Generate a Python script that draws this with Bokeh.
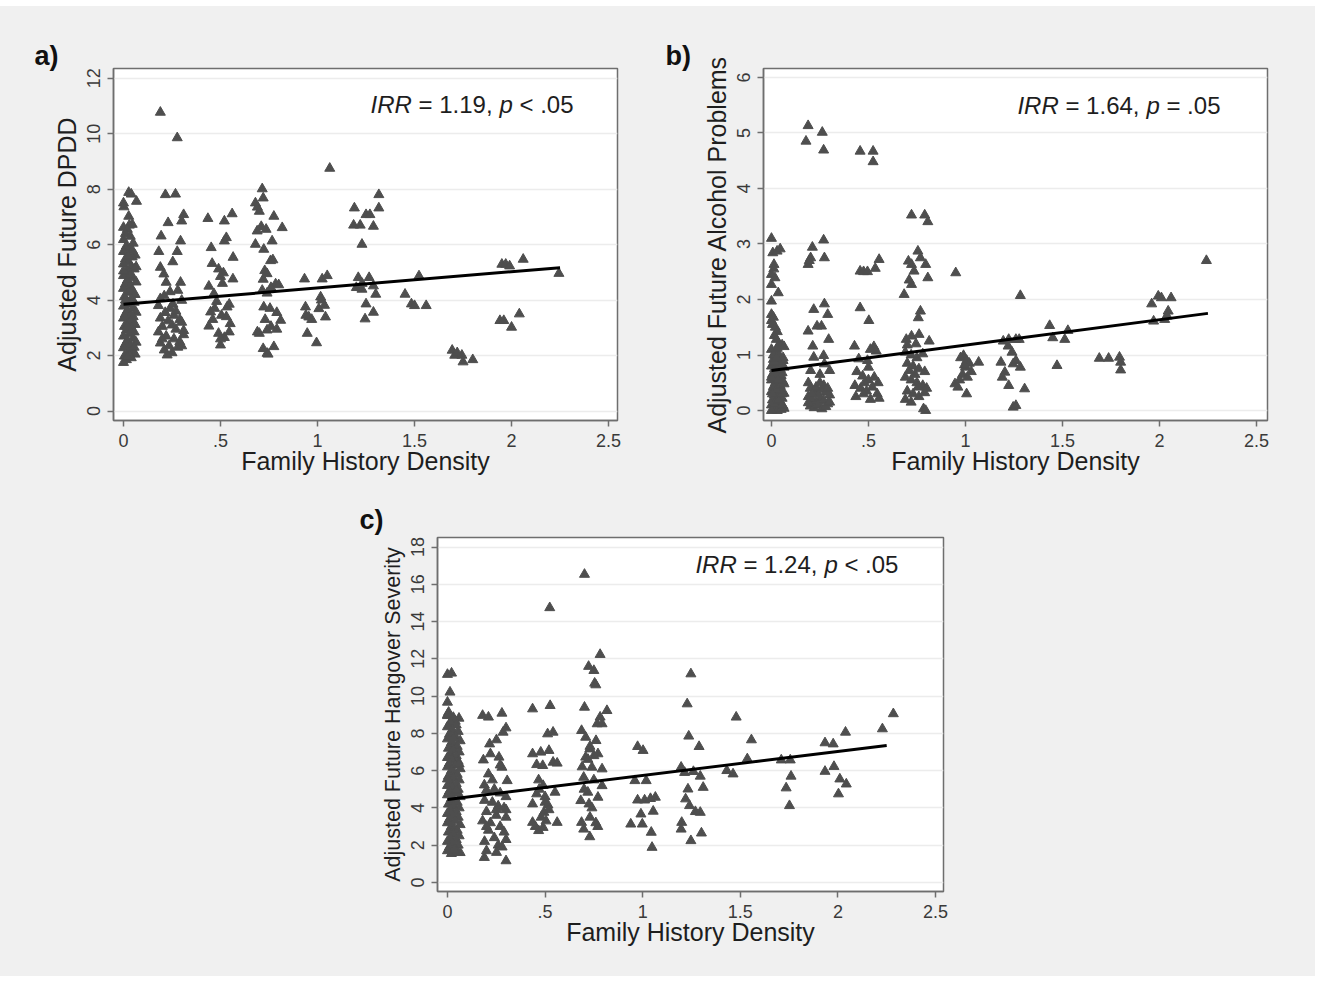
from bokeh.plotting import figure
from bokeh.layouts import column, row
from bokeh.models import Label, FixedTicker, Spacer
from bokeh.embed import file_html
from bokeh.resources import INLINE

FONT = "Liberation Sans"
BG = "#f0f0f0"
MARK = "#4e4e4e"
AXC = "#6e6e6e"

x_ticks = [0, 0.5, 1, 1.5, 2, 2.5]
x_tick_labels = ["0", ".5", "1", "1.5", "2", "2.5"]
x_title = "Family History Density"

# ---------------- panel a: Adjusted Future DPDD ----------------
dpdd_ticks = [0, 2, 4, 6, 8, 10, 12]
dpdd_title = "Adjusted Future DPDD"
dpdd_points = [
    # FH density ~0
    (0.027, 7.88), (0.040, 7.82), (0.067, 7.56), (0.0, 7.50), (0.002, 7.36), (0.027, 7.02),
    (0.045, 6.73), (0.03, 6.70), (0.00, 6.62), (0.02, 6.55), (0.01, 6.40), (0.035, 6.30),
    (0.00, 6.18), (0.05, 6.05), (0.015, 5.95), (0.03, 5.85), (0.00, 5.75), (0.06, 5.62),
    (0.045, 5.55), (0.01, 5.48), (0.025, 5.38), (0.00, 5.30), (0.04, 5.22), (0.055, 5.12),
    (0.015, 5.05), (0.03, 4.97), (0.00, 4.88), (0.05, 4.80), (0.02, 4.72), (0.065, 4.65),
    (0.01, 4.58), (0.035, 4.50), (0.00, 4.42), (0.045, 4.35), (0.025, 4.28), (0.06, 4.20),
    (0.005, 4.12), (0.04, 4.05), (0.015, 3.98), (0.055, 3.92), (0.03, 3.85), (0.00, 3.78),
    (0.05, 3.70), (0.02, 3.63), (0.065, 3.56), (0.01, 3.50), (0.035, 3.42), (0.00, 3.35),
    (0.045, 3.28), (0.025, 3.20), (0.06, 3.12), (0.005, 3.05), (0.04, 2.98), (0.015, 2.92),
    (0.055, 2.85), (0.03, 2.78), (0.00, 2.70), (0.05, 2.62), (0.02, 2.55), (0.065, 2.48),
    (0.01, 2.42), (0.035, 2.35), (0.00, 2.28), (0.045, 2.20), (0.025, 2.12), (0.06, 2.05),
    (0.005, 1.98), (0.04, 1.92), (0.015, 1.85), (0.00, 1.75), (0.03, 2.02), (0.02, 3.05),
    (0.05, 3.40), (0.01, 4.00), (0.035, 4.90), (0.045, 5.80), (0.00, 5.05), (0.025, 5.60),
    (0.065, 5.20), (0.055, 2.30), (0.02, 1.95),
    # ~0.25
    (0.19, 10.77), (0.277, 9.85), (0.216, 7.80), (0.268, 7.82), (0.31, 7.08), (0.30, 6.85),
    (0.23, 6.79), (0.194, 6.31), (0.294, 6.13), (0.182, 5.75), (0.277, 5.75), (0.254, 5.38),
    (0.19, 5.18), (0.208, 4.94), (0.22, 4.64), (0.294, 4.64), (0.28, 4.35), (0.30, 3.99),
    (0.19, 4.05), (0.21, 4.15), (0.18, 3.80), (0.24, 3.70), (0.215, 3.55), (0.26, 3.45),
    (0.19, 3.35), (0.23, 3.25), (0.29, 3.30), (0.25, 3.10), (0.20, 3.05), (0.27, 2.95),
    (0.18, 2.85), (0.31, 2.75), (0.22, 2.70), (0.26, 2.60), (0.29, 2.50), (0.19, 2.45),
    (0.235, 2.35), (0.28, 2.30), (0.21, 2.20), (0.25, 2.10), (0.225, 2.02), (0.30, 2.35),
    (0.27, 3.60), (0.31, 2.90), (0.20, 2.60), (0.24, 4.30), (0.255, 3.85), (0.30, 3.20),
    # ~0.5
    (0.435, 6.94), (0.52, 6.85), (0.56, 7.11), (0.452, 5.89), (0.52, 6.13), (0.53, 6.25),
    (0.565, 5.54), (0.457, 5.32), (0.49, 5.12), (0.515, 4.98), (0.564, 4.76), (0.50, 4.85),
    (0.466, 4.23), (0.44, 4.50), (0.51, 4.60), (0.534, 3.75), (0.545, 3.85), (0.449, 3.57),
    (0.47, 3.70), (0.44, 3.06), (0.49, 2.80), (0.55, 3.15), (0.50, 2.38), (0.52, 2.65),
    (0.545, 2.85), (0.46, 3.30), (0.505, 3.45), (0.48, 3.95), (0.53, 3.40), (0.50, 2.60),
    # ~0.75
    (0.715, 8.01), (0.72, 7.68), (0.68, 7.50), (0.69, 7.35), (0.70, 7.20), (0.775, 7.02),
    (0.818, 6.61), (0.689, 6.49), (0.71, 6.65), (0.735, 6.55), (0.766, 6.13), (0.68, 6.01),
    (0.723, 5.83), (0.758, 5.42), (0.77, 5.45), (0.728, 5.06), (0.74, 4.95), (0.72, 4.75),
    (0.784, 4.58), (0.80, 4.55), (0.76, 4.45), (0.715, 4.35), (0.74, 4.25), (0.723, 3.75),
    (0.755, 3.70), (0.81, 3.27), (0.79, 3.55), (0.70, 2.80), (0.74, 2.92), (0.775, 2.32),
    (0.74, 2.08), (0.72, 2.25), (0.745, 2.05), (0.69, 2.85), (0.76, 3.05), (0.79, 2.95),
    (0.73, 3.30),
    # ~1
    (0.933, 4.76), (1.024, 4.76), (1.05, 4.88), (0.938, 3.75), (1.016, 4.11), (1.036, 3.81),
    (1.007, 3.69), (0.955, 3.39), (0.97, 3.30), (1.041, 3.39), (0.947, 2.80), (0.995, 2.46),
    (1.063, 8.75), (1.02, 4.00), (0.94, 3.45),
    # ~1.25
    (1.19, 7.32), (1.22, 6.70), (1.186, 6.70), (1.25, 7.08), (1.27, 7.08), (1.288, 6.66),
    (1.316, 7.80), (1.316, 7.32), (1.229, 6.01), (1.21, 4.81), (1.266, 4.81), (1.229, 4.39),
    (1.288, 4.51), (1.30, 4.21), (1.25, 3.86), (1.288, 3.56), (1.245, 3.32), (1.23, 4.60),
    (1.20, 4.45),
    # ~1.5
    (1.451, 4.21), (1.484, 3.86), (1.50, 3.80), (1.56, 3.80), (1.523, 4.87),
    # ~1.75
    (1.694, 2.19), (1.707, 2.01), (1.744, 2.01), (1.75, 1.77), (1.80, 1.85), (1.72, 2.10),
    # ~2
    (1.95, 5.29), (1.97, 5.29), (1.99, 5.23), (2.06, 5.47), (1.94, 3.26), (1.96, 3.26),
    (2.00, 3.02), (2.04, 3.50),
    # 2.25
    (2.244, 4.96),
]
dpdd_fit_x = [0.0, 2.25]
dpdd_fit_y = [3.85, 5.17]
dpdd_irr = "= 1.19,"
dpdd_p = "< .05"

# ---------------- panel b: Adjusted Future Alcohol Problems ----------------
alc_ticks = [0, 1, 2, 3, 4, 5, 6]
alc_title = "Adjusted Future Alcohol Problems"
alc_points = [
    # ~0
    (0.0, 3.10), (0.007, 2.84), (0.029, 2.87), (0.045, 2.91), (0.013, 2.63), (0.012, 2.55),
    (0.0, 2.45), (0.018, 2.39), (0.035, 2.12), (0.0, 1.97), (0.0, 2.27), (0.0, 1.73),
    (0.01, 1.68), (0.005, 1.55), (0.02, 1.50), (0.0, 1.62), (0.03, 1.42), (0.04, 1.20),
    (0.055, 1.18), (0.065, 1.15), (0.015, 1.35), (0.025, 1.28),
    (0.00, 1.10), (0.02, 1.05), (0.04, 1.00), (0.06, 0.95), (0.01, 0.92), (0.03, 0.88),
    (0.05, 0.85), (0.00, 0.80), (0.065, 0.78), (0.015, 0.75), (0.035, 0.72), (0.055, 0.68),
    (0.005, 0.65), (0.025, 0.62), (0.045, 0.58), (0.00, 0.55), (0.06, 0.52), (0.02, 0.50),
    (0.04, 0.46), (0.01, 0.43), (0.03, 0.40), (0.05, 0.37), (0.00, 0.34), (0.065, 0.31),
    (0.015, 0.28), (0.035, 0.25), (0.055, 0.22), (0.005, 0.19), (0.025, 0.16), (0.045, 0.13),
    (0.00, 0.10), (0.06, 0.08), (0.02, 0.05), (0.04, 0.03), (0.01, 0.01), (0.03, 0.00),
    (0.05, 0.02), (0.00, 0.00), (0.065, 0.04), (0.015, 0.12), (0.035, 0.18), (0.055, 0.30),
    (0.025, 0.36), (0.045, 0.45), (0.00, 0.60), (0.02, 0.70), (0.04, 0.82), (0.06, 0.90),
    (0.01, 1.00), (0.03, 1.12), (0.05, 0.63), (0.065, 0.48), (0.015, 0.88), (0.035, 0.55),
    (0.005, 0.30), (0.055, 0.10), (0.025, 0.95), (0.045, 0.75),
    # ~0.25
    (0.189, 5.13), (0.178, 4.85), (0.262, 5.01), (0.269, 4.69), (0.211, 2.94), (0.202, 2.75),
    (0.189, 2.63), (0.195, 2.70), (0.269, 3.07), (0.273, 2.75), (0.218, 1.82), (0.273, 1.92),
    (0.29, 1.73), (0.189, 1.43), (0.235, 1.52), (0.258, 1.52), (0.213, 1.16), (0.295, 1.28),
    (0.269, 0.99), (0.218, 0.96), (0.202, 0.72), (0.273, 0.84), (0.25, 0.65), (0.30, 0.72),
    (0.19, 0.50), (0.20, 0.40), (0.22, 0.35), (0.24, 0.30), (0.26, 0.38), (0.28, 0.33),
    (0.30, 0.28), (0.19, 0.25), (0.21, 0.20), (0.23, 0.15), (0.25, 0.22), (0.27, 0.18),
    (0.29, 0.12), (0.20, 0.08), (0.22, 0.05), (0.24, 0.10), (0.26, 0.03), (0.28, 0.07),
    (0.30, 0.15), (0.19, 0.14), (0.23, 0.42), (0.27, 0.45), (0.25, 0.50), (0.21, 0.30),
    (0.29, 0.40),
    # ~0.5
    (0.457, 4.67), (0.524, 4.67), (0.524, 4.48), (0.457, 2.51), (0.475, 2.50), (0.495, 2.50),
    (0.535, 2.56), (0.555, 2.72), (0.457, 1.85), (0.502, 1.62), (0.428, 1.16), (0.528, 1.15),
    (0.54, 1.07), (0.45, 0.93), (0.495, 0.90), (0.51, 1.10), (0.44, 0.70), (0.47, 0.62),
    (0.50, 0.55), (0.53, 0.60), (0.55, 0.50), (0.43, 0.45), (0.46, 0.40), (0.49, 0.35),
    (0.52, 0.42), (0.545, 0.30), (0.435, 0.25), (0.475, 0.30), (0.51, 0.20), (0.555, 0.22),
    (0.48, 0.50), (0.50, 0.78),
    # ~0.75
    (0.722, 3.52), (0.79, 3.52), (0.806, 3.40), (0.684, 2.09), (0.706, 2.69), (0.722, 2.63),
    (0.755, 2.87), (0.768, 2.75), (0.735, 2.51), (0.795, 2.63), (0.806, 2.39), (0.722, 2.27),
    (0.71, 2.35), (0.768, 1.79), (0.757, 1.67), (0.695, 1.28), (0.722, 1.34), (0.761, 1.37),
    (0.813, 1.25), (0.70, 1.18), (0.745, 1.20), (0.784, 0.03), (0.795, 0.00), (0.69, 1.05),
    (0.72, 1.00), (0.75, 0.95), (0.78, 1.02), (0.70, 0.85), (0.73, 0.80), (0.76, 0.75),
    (0.79, 0.70), (0.69, 0.60), (0.72, 0.55), (0.75, 0.50), (0.78, 0.45), (0.80, 0.40),
    (0.70, 0.35), (0.73, 0.30), (0.76, 0.25), (0.69, 0.20), (0.72, 0.15), (0.755, 0.42),
    (0.79, 0.32), (0.74, 0.65), (0.71, 0.72),
    # ~1
    (0.95, 2.48), (0.99, 0.99), (0.975, 0.95), (1.006, 0.90), (1.068, 0.87), (0.946, 0.48),
    (0.961, 0.42), (1.006, 0.30), (0.985, 0.65), (1.00, 0.78), (1.02, 0.85), (0.97, 0.55),
    (1.01, 0.60), (0.995, 0.82), (1.03, 0.70),
    # ~1.25
    (1.283, 2.07), (1.195, 1.25), (1.223, 1.28), (1.26, 1.28), (1.277, 1.28), (1.22, 1.16),
    (1.183, 0.87), (1.246, 0.84), (1.26, 0.90), (1.283, 0.78), (1.203, 0.69), (1.19, 0.60),
    (1.223, 0.45), (1.305, 0.39), (1.246, 0.06), (1.26, 0.09), (1.24, 1.05),
    # ~1.5
    (1.434, 1.53), (1.45, 1.31), (1.512, 1.28), (1.528, 1.44), (1.472, 0.81),
    # ~1.75
    (1.69, 0.94), (1.738, 0.94), (1.794, 0.96), (1.80, 0.87), (1.80, 0.73),
    # ~2
    (1.96, 1.92), (1.994, 2.06), (2.01, 2.03), (2.06, 2.03), (2.045, 1.79), (1.97, 1.61),
    (2.027, 1.64), (2.04, 1.70),
    # 2.25
    (2.242, 2.70),
]
alc_fit_x = [0.0, 2.25]
alc_fit_y = [0.72, 1.75]
alc_irr = "= 1.64,"
alc_p = "= .05"

# ---------------- panel c: Adjusted Future Hangover Severity ----------------
hang_ticks = [0, 2, 4, 6, 8, 10, 12, 14, 16, 18]
hang_title = "Adjusted Future Hangover Severity"
hang_points = [
    # ~0
    (0.0, 11.16), (0.021, 11.23), (0.013, 10.21), (0.0, 9.67), (0.006, 9.13), (0.059, 8.81),
    (0.017, 8.51), (0.0, 8.95), (0.04, 8.65),
    (0.00, 9.00), (0.03, 8.85), (0.015, 8.60), (0.045, 8.45), (0.00, 8.35), (0.025, 8.20),
    (0.055, 8.10), (0.01, 7.95), (0.04, 7.85), (0.00, 7.70), (0.065, 7.60), (0.02, 7.50),
    (0.035, 7.40), (0.05, 7.30), (0.005, 7.20), (0.03, 7.10), (0.06, 7.00), (0.015, 6.90),
    (0.045, 6.80), (0.00, 6.70), (0.025, 6.60), (0.055, 6.50), (0.01, 6.40), (0.04, 6.30),
    (0.00, 6.20), (0.065, 6.10), (0.02, 6.00), (0.035, 5.90), (0.05, 5.80), (0.005, 5.70),
    (0.03, 5.60), (0.06, 5.50), (0.015, 5.40), (0.045, 5.30), (0.00, 5.20), (0.025, 5.10),
    (0.055, 5.00), (0.01, 4.90), (0.04, 4.80), (0.00, 4.70), (0.065, 4.60), (0.02, 4.50),
    (0.035, 4.40), (0.05, 4.30), (0.005, 4.20), (0.03, 4.10), (0.06, 4.00), (0.015, 3.90),
    (0.045, 3.80), (0.00, 3.70), (0.025, 3.60), (0.055, 3.50), (0.01, 3.40), (0.04, 3.30),
    (0.00, 3.20), (0.065, 3.10), (0.02, 3.00), (0.035, 2.90), (0.05, 2.80), (0.005, 2.70),
    (0.03, 2.60), (0.06, 2.50), (0.015, 2.40), (0.045, 2.30), (0.00, 2.20), (0.025, 2.10),
    (0.055, 2.00), (0.01, 1.90), (0.04, 1.80), (0.00, 1.70), (0.065, 1.60), (0.02, 1.55),
    (0.05, 1.65), (0.035, 1.75), (0.03, 7.75), (0.06, 6.35), (0.00, 5.55), (0.045, 4.95),
    # ~0.25
    (0.18, 8.96), (0.21, 8.87), (0.279, 9.08), (0.30, 8.29), (0.285, 8.06), (0.216, 7.43),
    (0.251, 7.65), (0.184, 6.57), (0.264, 6.72), (0.279, 6.18), (0.21, 5.82), (0.306, 5.46),
    (0.189, 5.23), (0.20, 4.95), (0.24, 5.00), (0.27, 4.80), (0.30, 4.60), (0.19, 4.40),
    (0.23, 4.30), (0.26, 4.10), (0.29, 4.00), (0.20, 3.80), (0.25, 3.60), (0.30, 3.50),
    (0.18, 3.30), (0.22, 3.20), (0.27, 3.00), (0.21, 2.80), (0.29, 2.70), (0.24, 2.40),
    (0.19, 2.20), (0.30, 2.30), (0.26, 2.00), (0.189, 1.34), (0.30, 1.16), (0.251, 1.61),
    (0.20, 1.70), (0.28, 1.90), (0.23, 5.50), (0.27, 6.30), (0.22, 6.90), (0.25, 3.90),
    (0.20, 3.00), (0.30, 3.90),
    # ~0.5
    (0.524, 14.74), (0.436, 9.31), (0.526, 9.49), (0.513, 7.97), (0.541, 8.06), (0.436, 6.90),
    (0.478, 6.99), (0.52, 7.08), (0.457, 6.32), (0.488, 6.27), (0.541, 6.45), (0.562, 6.40),
    (0.467, 5.50), (0.49, 5.20), (0.457, 4.75), (0.551, 4.84), (0.436, 4.21), (0.50, 4.30),
    (0.515, 4.15), (0.494, 3.76), (0.436, 3.22), (0.505, 3.30), (0.562, 3.22), (0.467, 2.78),
    (0.47, 5.00), (0.50, 4.60), (0.48, 3.50), (0.52, 3.90), (0.45, 3.00), (0.49, 2.95),
    # ~0.75
    (0.702, 16.53), (0.782, 12.23), (0.723, 11.59), (0.75, 11.37), (0.754, 10.69), (0.76, 10.60),
    (0.702, 9.40), (0.817, 9.22), (0.782, 8.87), (0.767, 8.51), (0.792, 8.51), (0.687, 8.15),
    (0.708, 7.79), (0.761, 7.61), (0.729, 7.16), (0.771, 6.90), (0.708, 6.72), (0.72, 6.60),
    (0.74, 6.18), (0.792, 6.09), (0.698, 5.64), (0.75, 5.50), (0.792, 5.19), (0.719, 4.84),
    (0.771, 4.57), (0.683, 4.39), (0.725, 4.21), (0.74, 4.00), (0.687, 3.22), (0.76, 3.20),
    (0.698, 2.86), (0.729, 2.45), (0.77, 3.00), (0.73, 3.50), (0.70, 5.00), (0.75, 6.80),
    (0.73, 7.30), (0.69, 6.20),
    # ~1
    (0.974, 7.29), (1.002, 7.08), (0.96, 5.46), (1.018, 5.46), (0.974, 4.42), (1.01, 4.42),
    (1.065, 4.57), (1.054, 3.82), (0.991, 3.67), (0.939, 3.13), (0.998, 3.13), (1.044, 2.69),
    (1.048, 1.88), (1.04, 4.50),
    # ~1.25
    (1.247, 11.19), (1.228, 9.58), (1.236, 7.85), (1.289, 7.29), (1.197, 6.18), (1.215, 5.90),
    (1.295, 5.70), (1.31, 5.10), (1.232, 5.01), (1.22, 4.48), (1.24, 4.12), (1.295, 3.76),
    (1.27, 3.80), (1.20, 3.22), (1.197, 2.86), (1.301, 2.65), (1.247, 2.24), (1.26, 5.95),
    # ~1.5
    (1.479, 8.87), (1.557, 7.65), (1.536, 6.63), (1.431, 6.00), (1.463, 5.82),
    # ~1.75
    (1.71, 6.57), (1.756, 6.57), (1.76, 5.70), (1.735, 5.07), (1.752, 4.12),
    # ~2
    (1.934, 7.49), (1.976, 7.43), (1.934, 5.96), (1.98, 6.22), (2.039, 8.06), (2.01, 5.55),
    (2.043, 5.28), (2.003, 4.75),
    # >2.2
    (2.228, 8.24), (2.284, 9.05),
]
hang_fit_x = [0.0, 2.25]
hang_fit_y = [4.45, 7.35]
hang_irr = "= 1.24,"
hang_p = "< .05"


def make_panel(w, h, left, right, top, bottom, xr, yr, yticks, ytitle, ytitle_size,
               pts, fit_x, fit_y, irr_txt, p_txt, irr_xy, tag, tag_offset, tag_standoff):
    p = figure(width=w, height=h, x_range=xr, y_range=yr,
               output_backend="svg", toolbar_location=None,
               min_border_left=left, min_border_right=right,
               min_border_top=top, min_border_bottom=bottom,
               background_fill_color="white", border_fill_color=BG,
               outline_line_color=AXC, outline_line_width=1.5)
    xs = [q[0] for q in pts]
    ys = [q[1] for q in pts]
    p.scatter(xs, ys, marker="triangle", size=10, fill_color=MARK, line_color=MARK)
    p.line(fit_x, fit_y, line_color="black", line_width=3)

    xa = p.xaxis[0]
    xa.ticker = FixedTicker(ticks=x_ticks)
    xa.major_label_overrides = dict(zip(x_ticks, x_tick_labels))
    ya = p.yaxis[0]
    ya.ticker = FixedTicker(ticks=yticks)
    ya.major_label_orientation = "vertical"
    for ax in (xa, ya):
        ax.minor_tick_line_color = None
        ax.major_tick_in = 0
        ax.major_tick_out = 6
        ax.major_tick_line_color = AXC
        ax.major_tick_line_width = 1.5
        ax.axis_line_color = AXC
        ax.axis_line_width = 1.5
        ax.major_label_text_font = FONT
        ax.major_label_text_font_size = "18px"
        ax.major_label_text_color = "#3a3a3a"
        ax.axis_label_text_font = FONT
        ax.axis_label_text_font_size = "25px"
        ax.axis_label_text_font_style = "normal"
        ax.axis_label_text_color = "#1e1e1e"
    ya.axis_label_text_font_size = ytitle_size
    xa.major_label_standoff = 7
    xa.axis_label_standoff = -3
    ya.major_label_standoff = 7
    ya.axis_label_standoff = 4
    xa.axis_label = x_title
    ya.axis_label = ytitle

    p.xgrid.grid_line_color = None
    p.ygrid.ticker = FixedTicker(ticks=yticks)
    p.ygrid.grid_line_color = "#ececec"
    p.ygrid.grid_line_width = 1.5

    ix, iy = irr_xy
    pieces = [("IRR", "italic", 0), (irr_txt, "normal", 48),
              ("p", "italic", 129), (p_txt, "normal", 149)]
    for txt, style, off in pieces:
        p.add_layout(Label(x=ix, y=iy, x_offset=off, text=txt, text_font=FONT,
                           text_font_size="24px", text_font_style=style,
                           text_color="#1e1e1e", text_baseline="alphabetic"))

    p.title.text = tag
    p.title.align = "left"
    p.title.offset = tag_offset
    p.title.standoff = tag_standoff
    p.title.text_font = FONT
    p.title.text_font_size = "27px"
    p.title.text_font_style = "bold"
    p.title.text_color = "#111111"
    return p


pa = make_panel(650, 484, 113, 33, 60, 70, (-0.0515, 2.546), (-0.34, 12.35),
                dpdd_ticks, dpdd_title, "25px", dpdd_points, dpdd_fit_x, dpdd_fit_y,
                dpdd_irr, dpdd_p, (1.273, 11.05), "a)", -79, -4)
pb = make_panel(665, 484, 113, 48, 62, 68, (-0.041, 2.557), (-0.179, 6.16),
                alc_ticks, alc_title, "25px", alc_points, alc_fit_x, alc_fit_y,
                alc_irr, alc_p, (1.268, 5.50), "b)", -98, -4)
pc = make_panel(1315, 486, 437, 372, 47, 85, (-0.051, 2.541), (-0.484, 18.51),
                hang_ticks, hang_title, "21.5px", hang_points, hang_fit_x, hang_fit_y,
                hang_irr, hang_p, (1.27, 17.05), "c)", -78, 5)

inner = column(row(pa, pb, styles={"background-color": BG}), pc,
               styles={"background-color": BG})
layout = column(Spacer(width=1315, height=6), inner)
open("out.html", "w").write(file_html(layout, INLINE))
